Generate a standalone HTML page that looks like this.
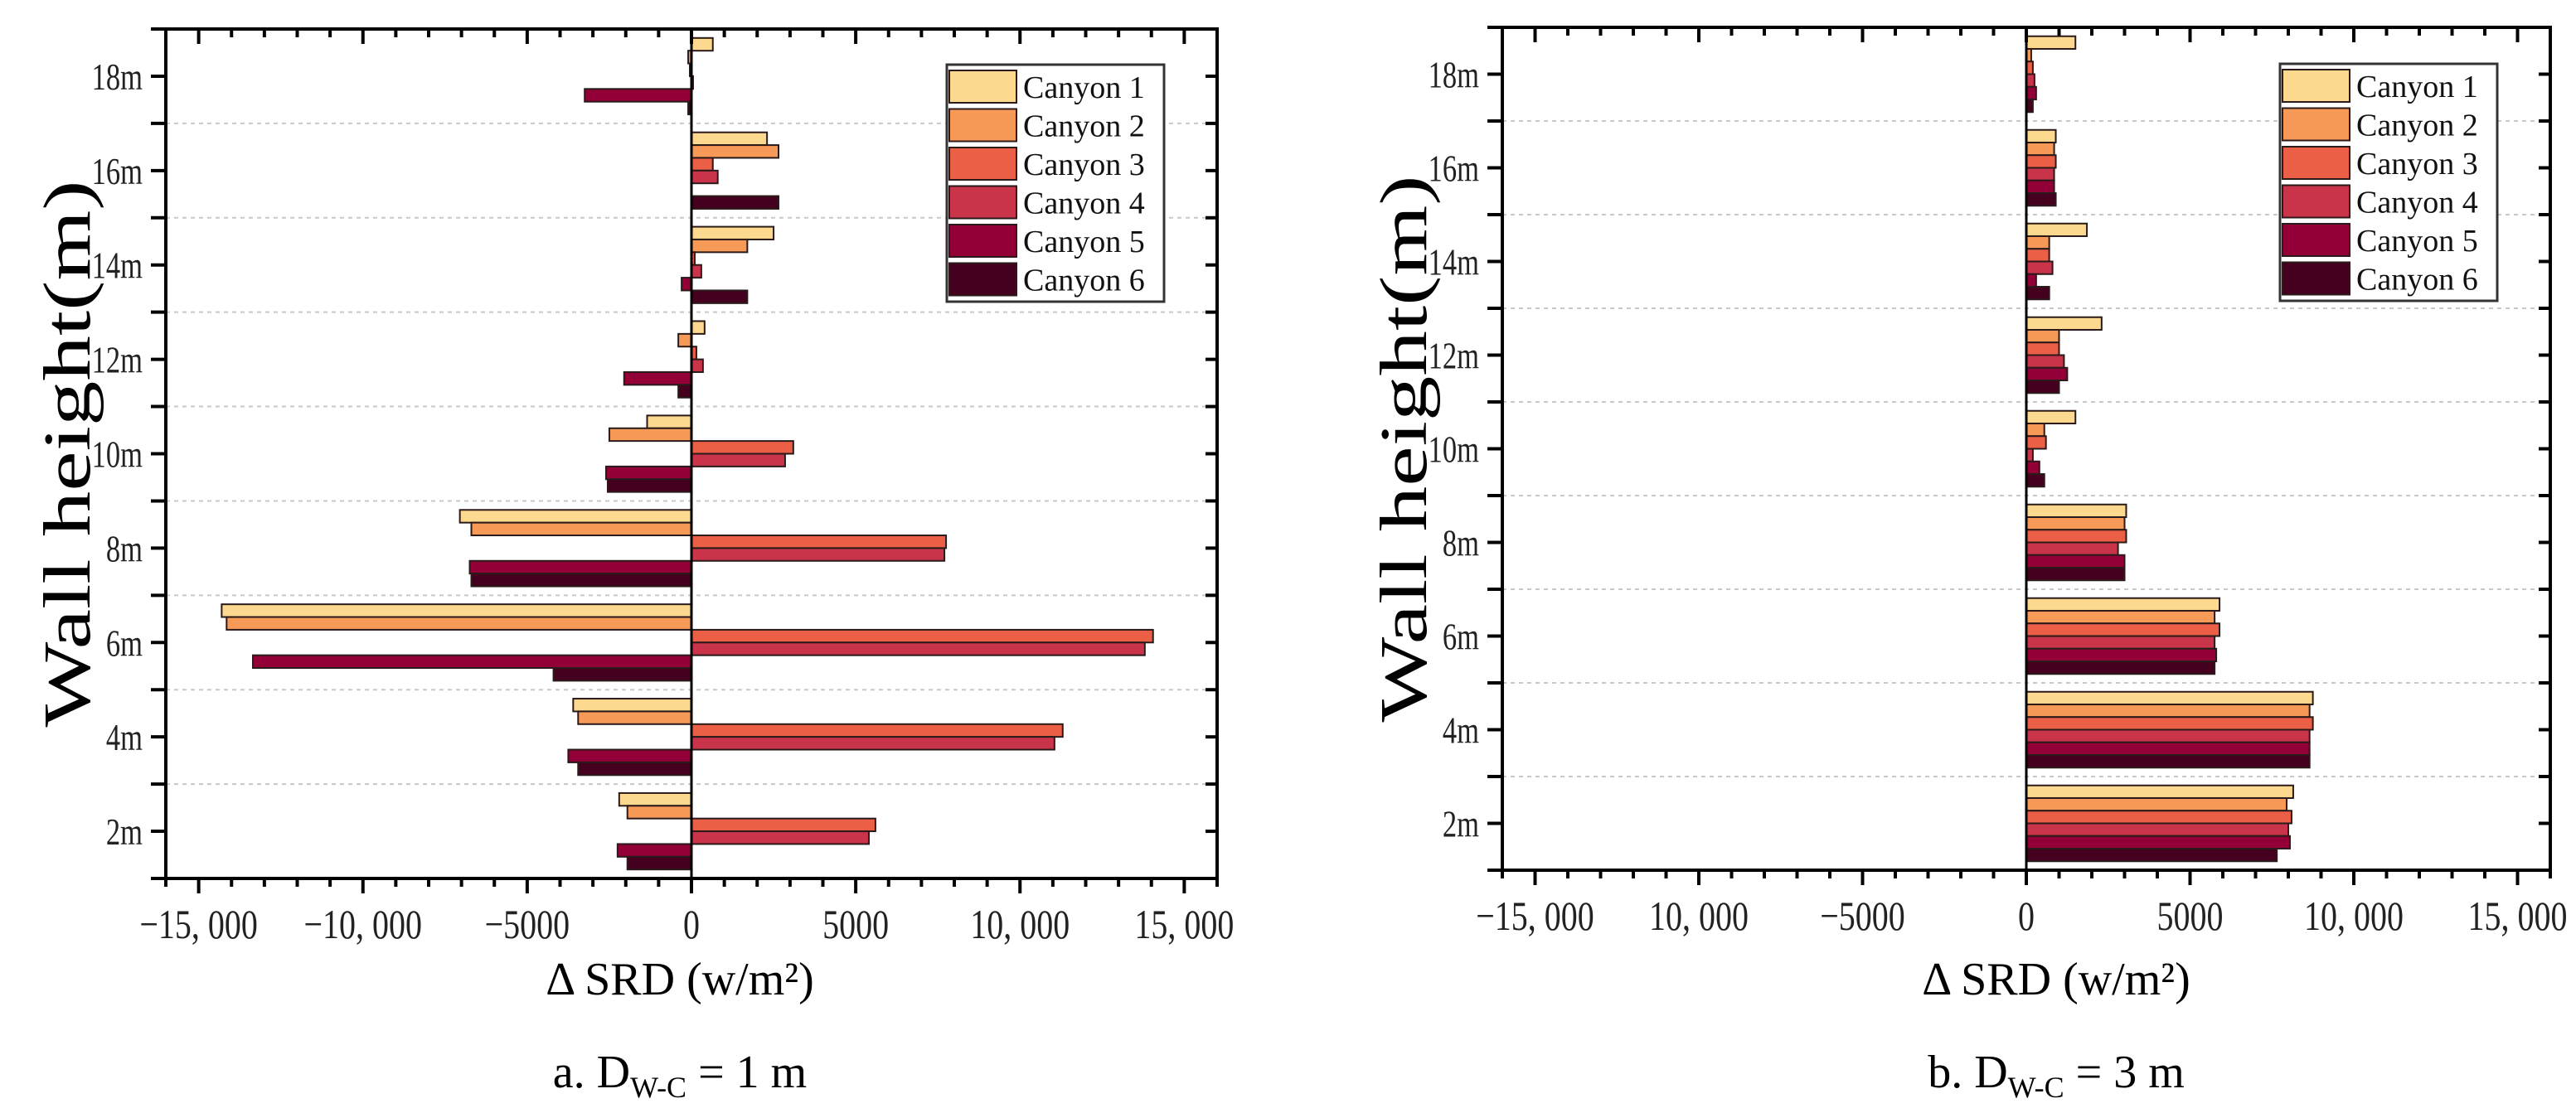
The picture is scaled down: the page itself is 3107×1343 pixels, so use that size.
<!DOCTYPE html>
<html><head><meta charset="utf-8"><style>
html,body{margin:0;padding:0;background:#fff;}
svg{display:block;font-family:"Liberation Serif",serif;}
</style></head><body>
<svg id="c" width="3107" height="1343" viewBox="0 0 3107 1343" xmlns="http://www.w3.org/2000/svg"></svg>
<script>
const canyons = ["Canyon 1","Canyon 2","Canyon 3","Canyon 4","Canyon 5","Canyon 6"];
const colors = ["#fdd88f","#f89a57","#ea5f45","#c9344a","#930038","#450020"];
const heights = [2,4,6,8,10,12,14,16,18];
const yTickLabels = ["2m","4m","6m","8m","10m","12m","14m","16m","18m"];
const xTicks = [-15000,-10000,-5000,0,5000,10000,15000];
const xTickLabelsA = ["\u221215, 000","\u221210, 000","\u22125000","0","5000","10, 000","15, 000"];
const xTickLabelsB = ["\u221215, 000","10, 000","\u22125000","0","5000","10, 000","15, 000"];
// panel a: rows = canyon, cols = heights 2..18
const dataA1 = [-2200,-3600,-14300,-7050,-1350,400,2500,2300,650];
const dataA2 = [-1950,-3450,-14150,-6700,-2500,-400,1700,2650,-100];
const dataA3 = [5600,11300,14050,7750,3100,150,100,650,-50];
const dataA4 = [5400,11050,13800,7700,2850,350,300,800,50];
const dataA5 = [-2250,-3750,-13350,-6750,-2600,-2050,-300,0,-3250];
const dataA6 = [-1950,-3450,-4200,-6700,-2550,-400,1700,2650,-100];
// panel b
const dataB1 = [8150,8750,5900,3050,1500,2300,1850,900,1500];
const dataB2 = [7950,8650,5750,3000,550,1000,700,850,150];
const dataB3 = [8100,8750,5900,3050,600,1000,700,900,200];
const dataB4 = [8000,8650,5750,2800,200,1150,800,850,250];
const dataB5 = [8050,8650,5800,3000,400,1250,300,850,300];
const dataB6 = [7650,8650,5750,3000,550,1000,700,900,200];

const NS="http://www.w3.org/2000/svg";
const svg=document.getElementById('c');
function el(tag,attrs,parent){const e=document.createElementNS(NS,tag);for(const k in attrs)e.setAttribute(k,attrs[k]);(parent||svg).appendChild(e);return e;}
function condense(t,f){const w=t.getComputedTextLength();if(w>0){t.setAttribute('textLength',w*f);t.setAttribute('lengthAdjust','spacingAndGlyphs');}}

function panel(p){
  const g=el('g',{});
  
  
  const X=v=>p.x0+(v+16000)/32000*(p.x1-p.x0);
  const Y=v=>p.y1-(v-1)/18*(p.y1-p.y0);
  for(let m=3;m<=17;m+=2){
    const l=el('line',{x1:p.x0,x2:p.x1,y1:Y(m),y2:Y(m),stroke:'#c8c8c8','stroke-width':2,'stroke-dasharray':'5,5'},g);
    
    
  }
  const bh=0.27;
  p.series.forEach((arr,k)=>{
    arr.forEach((v,i)=>{
      const top=heights[i]+0.81-bh*k;
      const xa=X(Math.min(0,v)), xb=X(Math.max(0,v));
      const r=el('rect',{x:xa,y:Y(top),width:Math.max(xb-xa,0.5),height:Y(top-bh)-Y(top),fill:colors[k],stroke:'#2a1a1a','stroke-width':2},g);
      
      
    });
  });
  el('line',{x1:X(0),x2:X(0),y1:p.y0,y2:p.y1,stroke:'#000','stroke-width':3},g);
  const f=el('rect',{x:p.x0,y:p.y0,width:p.x1-p.x0,height:p.y1-p.y0,fill:'none',stroke:'#000','stroke-width':4},g);
  
  
  for(let v=-16000;v<=16000;v+=1000){
    const major=v%5000===0;
    const L=major?18:10;
    el('line',{x1:X(v),x2:X(v),y1:p.y1,y2:p.y1+L,stroke:'#000','stroke-width':4},g);
    el('line',{x1:X(v),x2:X(v),y1:p.y0,y2:p.y0+L,stroke:'#000','stroke-width':4},g);
  }
  xTicks.forEach((v,i)=>{
    const t=el('text',{x:X(v),y:p.y1+72,'text-anchor':'middle','font-size':50,fill:'#222'},g);
    t.textContent=p.xlabels[i];
    
    
    condense(t,0.8);
  });
  for(let m=1;m<=19;m++){
    el('line',{x1:p.x0-18,x2:p.x0,y1:Y(m),y2:Y(m),stroke:'#000','stroke-width':4},g);
    el('line',{x1:p.x1-14,x2:p.x1,y1:Y(m),y2:Y(m),stroke:'#000','stroke-width':4},g);
  }
  heights.forEach((h,i)=>{
    const t=el('text',{x:p.x0-28,y:Y(h)+16,'text-anchor':'end','font-size':46,fill:'#222'},g);
    t.textContent=yTickLabels[i];
    
    
    condense(t,0.75);
  });
  const yt=el('text',{x:0,y:0,transform:`translate(${p.x0-92},${(p.y0+p.y1)/2}) rotate(-90)`,'text-anchor':'middle','font-size':80,textLength:660,lengthAdjust:'spacingAndGlyphs',fill:'#000'},g);
  yt.textContent='Wall height(m)';
  
  
  const xt=el('text',{x:p.tx,y:1200,'text-anchor':'middle','font-size':56,fill:'#000'},g);
  xt.textContent='\u0394 SRD (w/m\u00B2)';
  
  
  const cp=el('text',{x:p.tx,y:1312,'text-anchor':'middle','font-size':56,fill:'#000'},g);
  cp.innerHTML=p.cap+' D<tspan font-size="36" dy="12">W-C</tspan><tspan dy="-12"> = '+p.d+' m</tspan>';
  
  
  const lg=el('g',{},g);
  
  
  el('rect',{x:p.lx,y:p.ly,width:262,height:286,fill:'#fff',stroke:'#333','stroke-width':3},lg);
  canyons.forEach((c,k)=>{
    const e=el('g',{},lg);
    
    
    el('rect',{x:p.lx+3,y:p.ly+7+k*46.5,width:81,height:39,fill:colors[k],stroke:'#2a1a1a','stroke-width':2},e);
    const t=el('text',{x:p.lx+92,y:p.ly+40+k*46.5,'font-size':38,fill:'#111'},e);
    t.textContent=c;
  });
}
panel({name:'chart-a',x0:200,x1:1468,y0:35,y1:1060,tx:820,cap:'a.',d:'1',lx:1142,ly:78,xlabels:xTickLabelsA,
  series:[dataA1,dataA2,dataA3,dataA4,dataA5,dataA6]});
panel({name:'chart-b',x0:1812,x1:3076,y0:33,y1:1050,tx:2480,cap:'b.',d:'3',lx:2750,ly:77,xlabels:xTickLabelsB,
  series:[dataB1,dataB2,dataB3,dataB4,dataB5,dataB6]});
</script>
</body></html>
